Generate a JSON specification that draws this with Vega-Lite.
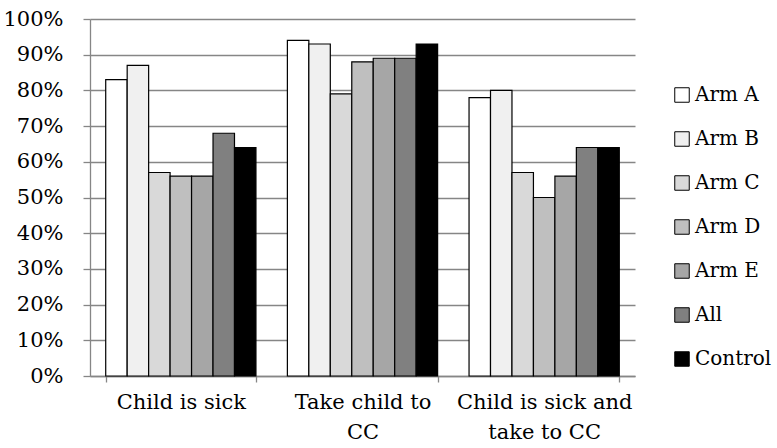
{
  "$schema": "https://vega.github.io/schema/vega-lite/v6.json",
  "width": 545,
  "height": 357,
  "autosize": {"type": "none"},
  "padding": {"left": 90, "top": 19, "right": 142, "bottom": 72},
  "background": "white",
  "data": {
    "values": [
      {"q": "Child is sick", "arm": "Arm A", "pct": 0.83},
      {"q": "Child is sick", "arm": "Arm B", "pct": 0.87},
      {"q": "Child is sick", "arm": "Arm C", "pct": 0.57},
      {"q": "Child is sick", "arm": "Arm D", "pct": 0.56},
      {"q": "Child is sick", "arm": "Arm E", "pct": 0.56},
      {"q": "Child is sick", "arm": "All", "pct": 0.68},
      {"q": "Child is sick", "arm": "Control", "pct": 0.64},
      {"q": "Take child to CC", "arm": "Arm A", "pct": 0.94},
      {"q": "Take child to CC", "arm": "Arm B", "pct": 0.93},
      {"q": "Take child to CC", "arm": "Arm C", "pct": 0.79},
      {"q": "Take child to CC", "arm": "Arm D", "pct": 0.88},
      {"q": "Take child to CC", "arm": "Arm E", "pct": 0.89},
      {"q": "Take child to CC", "arm": "All", "pct": 0.89},
      {"q": "Take child to CC", "arm": "Control", "pct": 0.93},
      {"q": "Child is sick and take to CC", "arm": "Arm A", "pct": 0.78},
      {"q": "Child is sick and take to CC", "arm": "Arm B", "pct": 0.80},
      {"q": "Child is sick and take to CC", "arm": "Arm C", "pct": 0.57},
      {"q": "Child is sick and take to CC", "arm": "Arm D", "pct": 0.50},
      {"q": "Child is sick and take to CC", "arm": "Arm E", "pct": 0.56},
      {"q": "Child is sick and take to CC", "arm": "All", "pct": 0.64},
      {"q": "Child is sick and take to CC", "arm": "Control", "pct": 0.64}
    ]
  },
  "mark": {"type": "bar", "stroke": "black", "strokeWidth": 1.2},
  "encoding": {
    "x": {
      "field": "q",
      "type": "nominal",
      "sort": ["Child is sick", "Take child to CC", "Child is sick and take to CC"],
      "title": null,
      "scale": {"paddingInner": 0.173, "paddingOuter": 0.0865},
      "axis": {
        "labelAngle": 0,
        "tickBand": "extent",
        "tickSize": 6,
        "labelPadding": 9,
        "labelLineHeight": 30,
        "labelExpr": "datum.value == 'Take child to CC' ? ['Take child to', 'CC'] : datum.value == 'Child is sick and take to CC' ? ['Child is sick and', 'take to CC'] : datum.value"
      }
    },
    "xOffset": {
      "field": "arm",
      "type": "nominal",
      "sort": ["Arm A", "Arm B", "Arm C", "Arm D", "Arm E", "All", "Control"],
      "scale": {"paddingInner": 0, "paddingOuter": 0}
    },
    "y": {
      "field": "pct",
      "type": "quantitative",
      "title": null,
      "scale": {"domain": [0, 1], "nice": false},
      "axis": {
        "format": ".0%",
        "values": [0, 0.1, 0.2, 0.3, 0.4, 0.5, 0.6, 0.7, 0.8, 0.9, 1],
        "grid": true,
        "tickSize": 7,
        "labelPadding": 20
      }
    },
    "color": {
      "field": "arm",
      "type": "nominal",
      "title": null,
      "sort": ["Arm A", "Arm B", "Arm C", "Arm D", "Arm E", "All", "Control"],
      "scale": {
        "domain": ["Arm A", "Arm B", "Arm C", "Arm D", "Arm E", "All", "Control"],
        "range": ["#ffffff", "#f0f0f0", "#d9d9d9", "#bfbfbf", "#a6a6a6", "#808080", "#000000"]
      },
      "legend": {
        "orient": "none",
        "legendX": 582,
        "legendY": 66,
        "symbolType": "square",
        "symbolSize": 210,
        "symbolStrokeColor": "black",
        "symbolStrokeWidth": 1,
        "rowPadding": 24,
        "labelOffset": 3
      }
    }
  },
  "config": {
    "font": "DejaVu Serif",
    "view": {"stroke": null},
    "axis": {
      "labelFont": "DejaVu Serif",
      "labelFontSize": 21,
      "labelColor": "black",
      "domainColor": "#868686",
      "domainWidth": 1.3,
      "tickColor": "#868686",
      "tickWidth": 1.3,
      "gridColor": "#868686",
      "gridWidth": 1.3
    },
    "axisX": {"grid": false},
    "legend": {
      "labelFont": "DejaVu Serif",
      "labelFontSize": 20,
      "labelColor": "black"
    }
  }
}
